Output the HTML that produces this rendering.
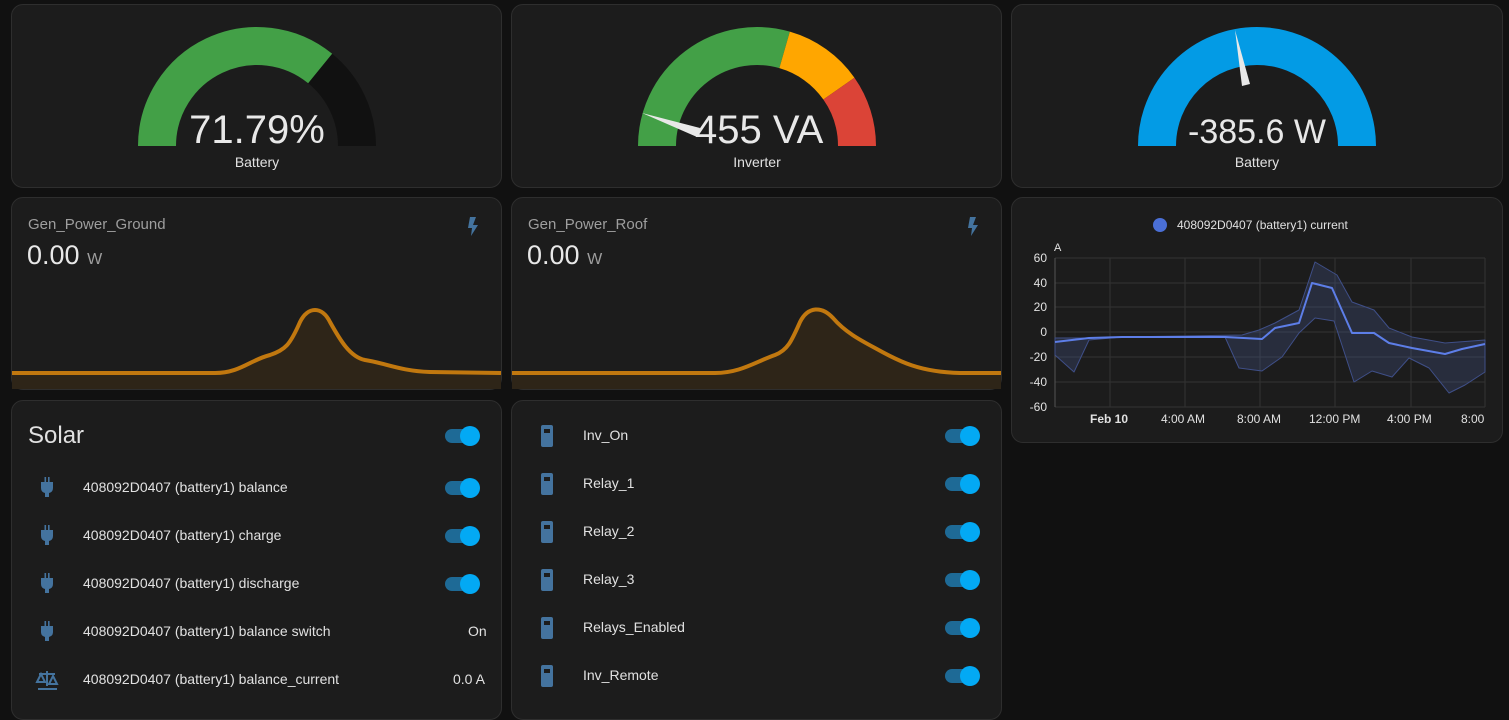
<!DOCTYPE html><html><head><meta charset="utf-8"><style>
body{margin:0;width:1509px;height:710px;background:#111;font-family:"Liberation Sans",sans-serif;position:relative;overflow:hidden;color:#e1e1e1}
.card{position:absolute;background:#1c1c1c;border:1px solid #2e2e2e;border-radius:12px;box-sizing:border-box}
.t{position:absolute;white-space:nowrap}
svg{position:absolute;left:0;top:0}
</style></head><body>
<div class="card" style="left:11px;top:4px;width:491px;height:184px"></div>
<div class="card" style="left:511px;top:4px;width:491px;height:184px"></div>
<div class="card" style="left:1011px;top:4px;width:492px;height:184px"></div>
<div class="card" style="left:11px;top:197px;width:491px;height:193px"></div>
<div class="card" style="left:511px;top:197px;width:491px;height:193px"></div>
<div class="card" style="left:1011px;top:197px;width:492px;height:246px"></div>
<div class="card" style="left:11px;top:400px;width:491px;height:320px"></div>
<div class="card" style="left:511px;top:400px;width:491px;height:320px"></div>
<svg width="1509" height="710" viewBox="0 0 1509 710">
<g fill="none" stroke-width="38">
<path d="M157 146 A100 100 0 0 1 320.2 68.5" stroke="#43a047"/>
<path d="M320.2 68.5 A100 100 0 0 1 357 146" stroke="#111"/>
<path d="M657 146 A100 100 0 0 1 784.6 49.9" stroke="#43a047"/>
<path d="M784.6 49.9 A100 100 0 0 1 838.9 88.6" stroke="#ffa600"/>
<path d="M838.9 88.6 A100 100 0 0 1 857 146" stroke="#db4437"/>
<path d="M1157 146 A100 100 0 0 1 1357 146" stroke="#039be5"/>
</g>
<polygon points="642,113 700,128 697,137" fill="#e8e8e8"/>
<polygon points="1235,30 1242,86 1250,84" fill="#e8e8e8"/>
<path d="M12,373 L215,373 C240,373 250,360 270,355 C285,350 290,345 300,322 C308,306 322,306 330,322 C340,340 350,357 365,360 C385,363 400,371 430,372 L501,373 L501,389 L12,389Z" fill="#2e2518"/>
<path d="M12,373 L215,373 C240,373 250,360 270,355 C285,350 290,345 300,322 C308,306 322,306 330,322 C340,340 350,357 365,360 C385,363 400,371 430,372 L501,373" fill="none" stroke="#c1780f" stroke-width="4"/>
<path d="M512,373 L715,373 C740,373 755,362 775,355 C788,350 792,340 800,322 C808,306 822,306 833,318 C845,332 860,340 875,348 C900,362 920,372 960,373 L1001,373 L1001,389 L512,389Z" fill="#2e2518"/>
<path d="M512,373 L715,373 C740,373 755,362 775,355 C788,350 792,340 800,322 C808,306 822,306 833,318 C845,332 860,340 875,348 C900,362 920,372 960,373 L1001,373" fill="none" stroke="#c1780f" stroke-width="4"/>
<path d="M470 217 L476 217 L473 225 L478 225 L471 236 L472 228 L468 228Z" fill="#44739e"/>
<path d="M970 217 L976 217 L973 225 L978 225 L971 236 L972 228 L968 228Z" fill="#44739e"/>
<g stroke="#333" stroke-width="1">
<line x1="1055" y1="258" x2="1485" y2="258"/><line x1="1055" y1="283" x2="1485" y2="283"/><line x1="1055" y1="307" x2="1485" y2="307"/><line x1="1055" y1="332" x2="1485" y2="332"/><line x1="1055" y1="357" x2="1485" y2="357"/><line x1="1055" y1="382" x2="1485" y2="382"/><line x1="1055" y1="407" x2="1485" y2="407"/>
<line x1="1110" y1="258" x2="1110" y2="407"/><line x1="1185" y1="258" x2="1185" y2="407"/><line x1="1260" y1="258" x2="1260" y2="407"/><line x1="1335" y1="258" x2="1335" y2="407"/><line x1="1411" y1="258" x2="1411" y2="407"/><line x1="1485" y1="258" x2="1485" y2="407"/>
</g>
<line x1="1055" y1="258" x2="1055" y2="407" stroke="#555"/>
<path d="M1055,338 L1085,338 L1122,337 L1242,335 L1259,330 L1275,323 L1299,310 L1315,262 L1337,275 L1352,302 L1374,310 L1389,328 L1412,337 L1445,343 L1485,340 L1485,372 L1465,385 L1449,393 L1429,368 L1409,358 L1392,377 L1372,371 L1354,382 L1334,321 L1315,318 L1299,333 L1282,357 L1262,371 L1239,368 L1225,337 L1122,337 L1089,340 L1074,372 L1055,355Z" fill="#4d5fa0" fill-opacity="0.25" stroke="#3f4f88" stroke-width="1" stroke-linejoin="round"/>
<polyline points="1055,342 1089,338 1122,337 1225,337 1262,339 1275,328 1299,323 1312,283 1332,288 1352,333 1374,333 1389,343 1412,348 1445,354 1462,349 1485,344" fill="none" stroke="#5d7ee8" stroke-width="2" stroke-linejoin="round"/>
<circle cx="1160" cy="225" r="7" fill="#4a6fd6"/>
</svg>
<div class="t" style="left:0;width:514px;text-align:center;top:108px;font-size:40px;color:#e8e8e8">71.79%</div>
<div class="t" style="left:0;width:514px;text-align:center;top:154px;font-size:14px">Battery</div>
<div class="t" style="left:695px;top:108px;font-size:40px;color:#e8e8e8">455 VA</div>
<div class="t" style="left:500px;width:514px;text-align:center;top:154px;font-size:14px">Inverter</div>
<div class="t" style="left:1000px;width:514px;text-align:center;top:113px;font-size:34px;color:#e8e8e8">-385.6 W</div>
<div class="t" style="left:1000px;width:514px;text-align:center;top:154px;font-size:14px">Battery</div>
<div class="t" style="left:28px;top:216px;font-size:15px;color:#9e9e9e">Gen_Power_Ground</div>
<div class="t" style="left:27px;top:240px;font-size:27px;color:#e8e8e8">0.00 <span style="font-size:16px;color:#9e9e9e">W</span></div>
<div class="t" style="left:528px;top:216px;font-size:15px;color:#9e9e9e">Gen_Power_Roof</div>
<div class="t" style="left:527px;top:240px;font-size:27px;color:#e8e8e8">0.00 <span style="font-size:16px;color:#9e9e9e">W</span></div>
<div class="t" style="left:1177px;top:218px;font-size:12px">408092D0407 (battery1) current</div>
<div class="t" style="left:1054px;top:242px;font-size:11px">A</div>
<div style="position:absolute;left:1020px;top:250px;width:27px;text-align:right;font-size:12px;line-height:16px">
<div style="position:absolute;right:0;top:0">60</div><div style="position:absolute;right:0;top:25px">40</div><div style="position:absolute;right:0;top:49px">20</div><div style="position:absolute;right:0;top:74px">0</div><div style="position:absolute;right:0;top:99px">-20</div><div style="position:absolute;right:0;top:124px">-40</div><div style="position:absolute;right:0;top:149px">-60</div></div>
<div class="t" style="left:1090px;top:412px;font-size:12px;font-weight:bold">Feb 10</div>
<div class="t" style="left:1161px;top:412px;font-size:12px">4:00 AM</div>
<div class="t" style="left:1237px;top:412px;font-size:12px">8:00 AM</div>
<div class="t" style="left:1309px;top:412px;font-size:12px">12:00 PM</div>
<div class="t" style="left:1387px;top:412px;font-size:12px">4:00 PM</div>
<div class="t" style="left:1461px;top:412px;font-size:12px">8:00</div>
<div class="t" style="left:28px;top:422px;font-size:24px">Solar</div>
<div class="t" style="left:83px;top:479px;font-size:14px">408092D0407 (battery1) balance</div>
<div class="t" style="left:83px;top:527px;font-size:14px">408092D0407 (battery1) charge</div>
<div class="t" style="left:83px;top:575px;font-size:14px">408092D0407 (battery1) discharge</div>
<div class="t" style="left:83px;top:623px;font-size:14px">408092D0407 (battery1) balance switch</div>
<div class="t" style="left:83px;top:671px;font-size:14px">408092D0407 (battery1) balance_current</div>
<div class="t" style="left:468px;top:623px;font-size:14px">On</div>
<div class="t" style="left:453px;top:671px;font-size:14px">0.0 A</div>
<div class="t" style="left:583px;top:427px;font-size:14px">Inv_On</div>
<div class="t" style="left:583px;top:475px;font-size:14px">Relay_1</div>
<div class="t" style="left:583px;top:523px;font-size:14px">Relay_2</div>
<div class="t" style="left:583px;top:571px;font-size:14px">Relay_3</div>
<div class="t" style="left:583px;top:619px;font-size:14px">Relays_Enabled</div>
<div class="t" style="left:583px;top:667px;font-size:14px">Inv_Remote</div>
<svg width="1509" height="710" viewBox="0 0 1509 710">
<defs>
<g id="tg"><rect x="0" y="-7" width="34" height="14" rx="7" fill="#1e6a96"/><circle cx="25" cy="0" r="10" fill="#03a9f4"/></g>
<g id="plug" fill="#44739e"><rect x="-2.5" y="-10" width="1.6" height="5"/><rect x="1" y="-10" width="1.6" height="5"/><path d="M-6 -5 H6 V1 Q6 5 2 6 V10 H-2 V6 Q-6 5 -6 1Z"/></g>
<g id="rem"><rect x="-6" y="-11" width="12" height="22" rx="2" fill="#44739e"/><rect x="-3" y="-7" width="6" height="4" fill="#1c1c1c"/></g>
</defs>
<use href="#tg" x="445" y="436"/><use href="#tg" x="445" y="488"/><use href="#tg" x="445" y="536"/><use href="#tg" x="445" y="584"/>
<use href="#plug" x="47" y="487"/><use href="#plug" x="47" y="535"/><use href="#plug" x="47" y="583"/><use href="#plug" x="47" y="631"/>
<g stroke="#44739e" stroke-width="2" fill="none"><line x1="38" y1="689" x2="57" y2="689"/><line x1="47" y1="671" x2="47" y2="686"/><line x1="39" y1="674" x2="55" y2="674"/><path d="M37 682 L41 674 L45 682Z M49 684 L53 676 L57 684Z"/></g>
<use href="#tg" x="945" y="436"/><use href="#tg" x="945" y="484"/><use href="#tg" x="945" y="532"/><use href="#tg" x="945" y="580"/><use href="#tg" x="945" y="628"/><use href="#tg" x="945" y="676"/>
<use href="#rem" x="547" y="436"/><use href="#rem" x="547" y="484"/><use href="#rem" x="547" y="532"/><use href="#rem" x="547" y="580"/><use href="#rem" x="547" y="628"/><use href="#rem" x="547" y="676"/>
</svg>
</body></html>
